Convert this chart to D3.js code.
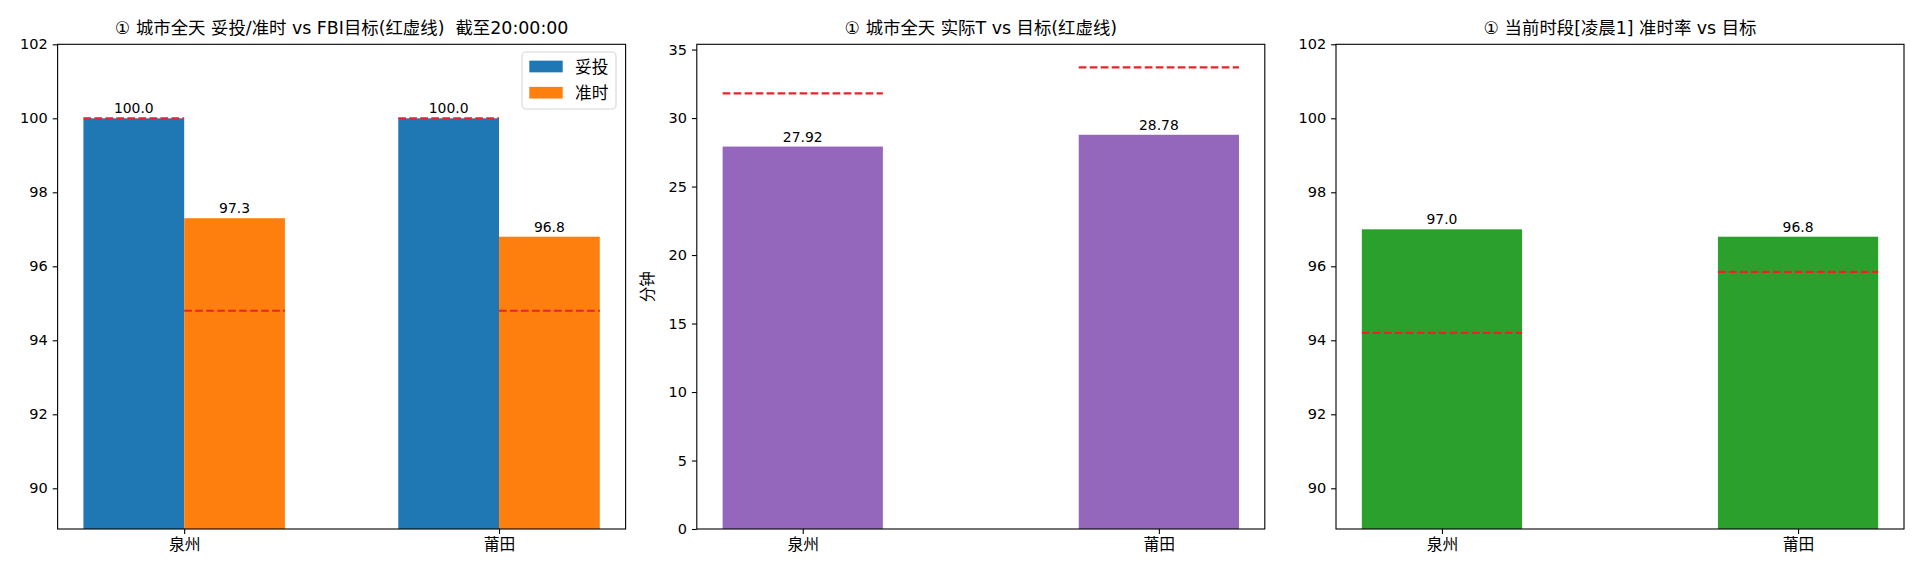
<!DOCTYPE html>
<html><head><meta charset="utf-8">
<script src="https://cdn.jsdelivr.net/npm/d3@7/dist/d3.min.js"></script>
<style>
body{margin:0;background:#fff}
svg text{font-family:"DejaVu Sans","Noto Sans CJK SC",sans-serif;fill:#000}
svg text.cjk{font-family:"Noto Sans CJK SC",sans-serif}
svg text.title{white-space:pre}
</style></head>
<body><svg id="chart" width="1920" height="576"></svg>
<script>
// ---- data ----
const cities = ["泉州", "莆田"];
const deliveredRate = [100.0, 100.0];
const onTimeRate = [97.3, 96.8];
const deliveredTarget = [100.0, 100.0];
const onTimeTarget = [94.8, 94.8];
const actualT = [27.92, 28.78];
const targetT = [31.8, 33.7];
const periodRate = [97.0, 96.8];
const periodTarget = [94.2, 95.85];
const rateTicks = [90, 92, 94, 96, 98, 100, 102];
const minuteTicks = [0, 5, 10, 15, 20, 25, 30, 35];
const legendLabels = ["妥投", "准时"];
const titles = [
  "① 城市全天 妥投/准时 vs FBI目标(红虚线)  截至20:00:00",
  "① 城市全天 实际T vs 目标(红虚线)",
  "① 当前时段[凌晨1] 准时率 vs 目标"
];
const yLabel2 = "分钟";

// ---- layout ----
const svg = d3.select("#chart");
const panelLefts = [57.6, 696.8, 1336];
const pw = 568, axTop = 44.3, axBottom = 529;
const C = {blue:"#1f77b4", orange:"#ff7f0e", purple:"#9467bd", green:"#2ca02c", red:"#e8242a"};
const tickFont = 14.5, catFont = 15.8, labelFont = 13.9, titleFont = 17.4;

function panel(i, xDomain, yDomain, yTicks, fmtY) {
  const g = svg.append("g");
  const x = d3.scaleLinear().domain(xDomain).range([panelLefts[i], panelLefts[i] + pw]);
  const y = d3.scaleLinear().domain(yDomain).range([axBottom, axTop]);
  return {g, x, y, finish: () => {
    const ax = g.append("g").attr("transform", `translate(0,${axBottom})`)
      .call(d3.axisBottom(x).tickValues([0, 1]).tickFormat(k => cities[k]).tickSize(4.9).tickPadding(4.5));
    const ay = g.append("g").attr("transform", `translate(${panelLefts[i]},0)`)
      .call(d3.axisLeft(y).tickValues(yTicks).tickFormat(fmtY).tickSize(4.9).tickPadding(4.9));
    [ax, ay].forEach(a => {
      a.select(".domain").remove();
      a.selectAll(".tick line").attr("stroke", "#000").attr("stroke-width", 1.1);
      a.selectAll(".tick text").attr("fill", "#000");
    });
    ay.selectAll(".tick text").style("font-size", tickFont + "px");
    ax.selectAll(".tick text").attr("class", "cjk").style("font-size", catFont + "px");
    g.append("rect").attr("x", panelLefts[i]).attr("y", axTop).attr("width", pw).attr("height", axBottom - axTop)
      .attr("fill", "none").attr("stroke", "#000").attr("stroke-width", 1.1);
    g.append("text").attr("class", "title").attr("x", panelLefts[i] + pw / 2).attr("y", axTop - 10).attr("text-anchor", "middle")
      .style("font-size", titleFont + "px").text(titles[i]);
  }};
}

function bars(p, xs, w, vals, color) {
  p.g.append("g").selectAll("rect").data(vals).join("rect")
    .attr("x", (d, k) => p.x(xs[k] - w / 2)).attr("width", (d, k) => p.x(xs[k] + w / 2) - p.x(xs[k] - w / 2))
    .attr("y", d => p.y(d)).attr("height", d => p.y(p.y.domain()[0]) - p.y(d)).attr("fill", color);
}
function targets(p, xs, w, vals) {
  p.g.append("g").selectAll("line").data(vals).join("line")
    .attr("x1", (d, k) => p.x(xs[k] - w / 2)).attr("x2", (d, k) => p.x(xs[k] + w / 2))
    .attr("y1", d => p.y(d)).attr("y2", d => p.y(d))
    .attr("stroke", C.red).attr("stroke-width", 2.08).attr("stroke-dasharray", "7.7,3.3");
}
function labels(p, xs, vals, fmt) {
  p.g.append("g").selectAll("text").data(vals).join("text")
    .attr("x", (d, k) => p.x(xs[k])).attr("y", d => p.y(d) - 5).attr("text-anchor", "middle")
    .style("font-size", labelFont + "px").text(fmt);
}

// Panel 1: grouped bars
{
  const w = 0.32, m = 0.05 * (1 + 2 * w);
  const p = panel(0, [-w - m, 1 + w + m], [88.9, 102], rateTicks, d3.format("d"));
  const xa = [0, 1].map(k => k - w / 2), xb = [0, 1].map(k => k + w / 2);
  bars(p, xa, w, deliveredRate, C.blue);
  bars(p, xb, w, onTimeRate, C.orange);
  targets(p, xa, w, deliveredTarget);
  targets(p, xb, w, onTimeTarget);
  labels(p, xa, deliveredRate, d3.format(".1f"));
  labels(p, xb, onTimeRate, d3.format(".1f"));
  p.finish();
  // legend
  const lf = 16.7, bx1 = panelLefts[0] + pw - 9.6, bx0 = bx1 - 94, by0 = axTop + 7.7, bh = 57;
  const lg = p.g.append("g");
  lg.append("rect").attr("x", bx0).attr("y", by0).attr("width", bx1 - bx0).attr("height", bh)
    .attr("rx", 4).attr("fill", "#fff").attr("fill-opacity", 0.8).attr("stroke", "#d5d5d5").attr("stroke-width", 1.1);
  [C.blue, C.orange].forEach((c, k) => {
    const cy = by0 + 14.5 + k * 26.2;
    lg.append("rect").attr("x", bx0 + 7.3).attr("y", cy - 5.85).attr("width", 33.4).attr("height", 11.7).attr("fill", c);
    lg.append("text").attr("class", "cjk").attr("x", bx0 + 53).attr("y", cy).attr("dy", "0.36em").style("font-size", lf + "px").text(legendLabels[k]);
  });
}

// Panel 2
{
  const w = 0.45, m = 0.05 * (1 + w);
  const ymax = d3.max(targetT.concat(actualT)) * 1.05;
  const p = panel(1, [-w / 2 - m, 1 + w / 2 + m], [0, ymax], minuteTicks, d3.format("d"));
  bars(p, [0, 1], w, actualT, C.purple);
  targets(p, [0, 1], w, targetT);
  labels(p, [0, 1], actualT, d3.format(".2f"));
  p.finish();
  p.g.append("text").attr("class", "cjk").attr("transform", `translate(${panelLefts[1] - 49},${(axTop + axBottom) / 2}) rotate(-90)`)
    .attr("text-anchor", "middle").attr("dy", "0.35em").style("font-size", "15.5px").text(yLabel2);
}

// Panel 3
{
  const w = 0.45, m = 0.05 * (1 + w);
  const p = panel(2, [-w / 2 - m, 1 + w / 2 + m], [88.9, 102], rateTicks, d3.format("d"));
  bars(p, [0, 1], w, periodRate, C.green);
  targets(p, [0, 1], w, periodTarget);
  labels(p, [0, 1], periodRate, d3.format(".1f"));
  p.finish();
}
</script></body></html>
